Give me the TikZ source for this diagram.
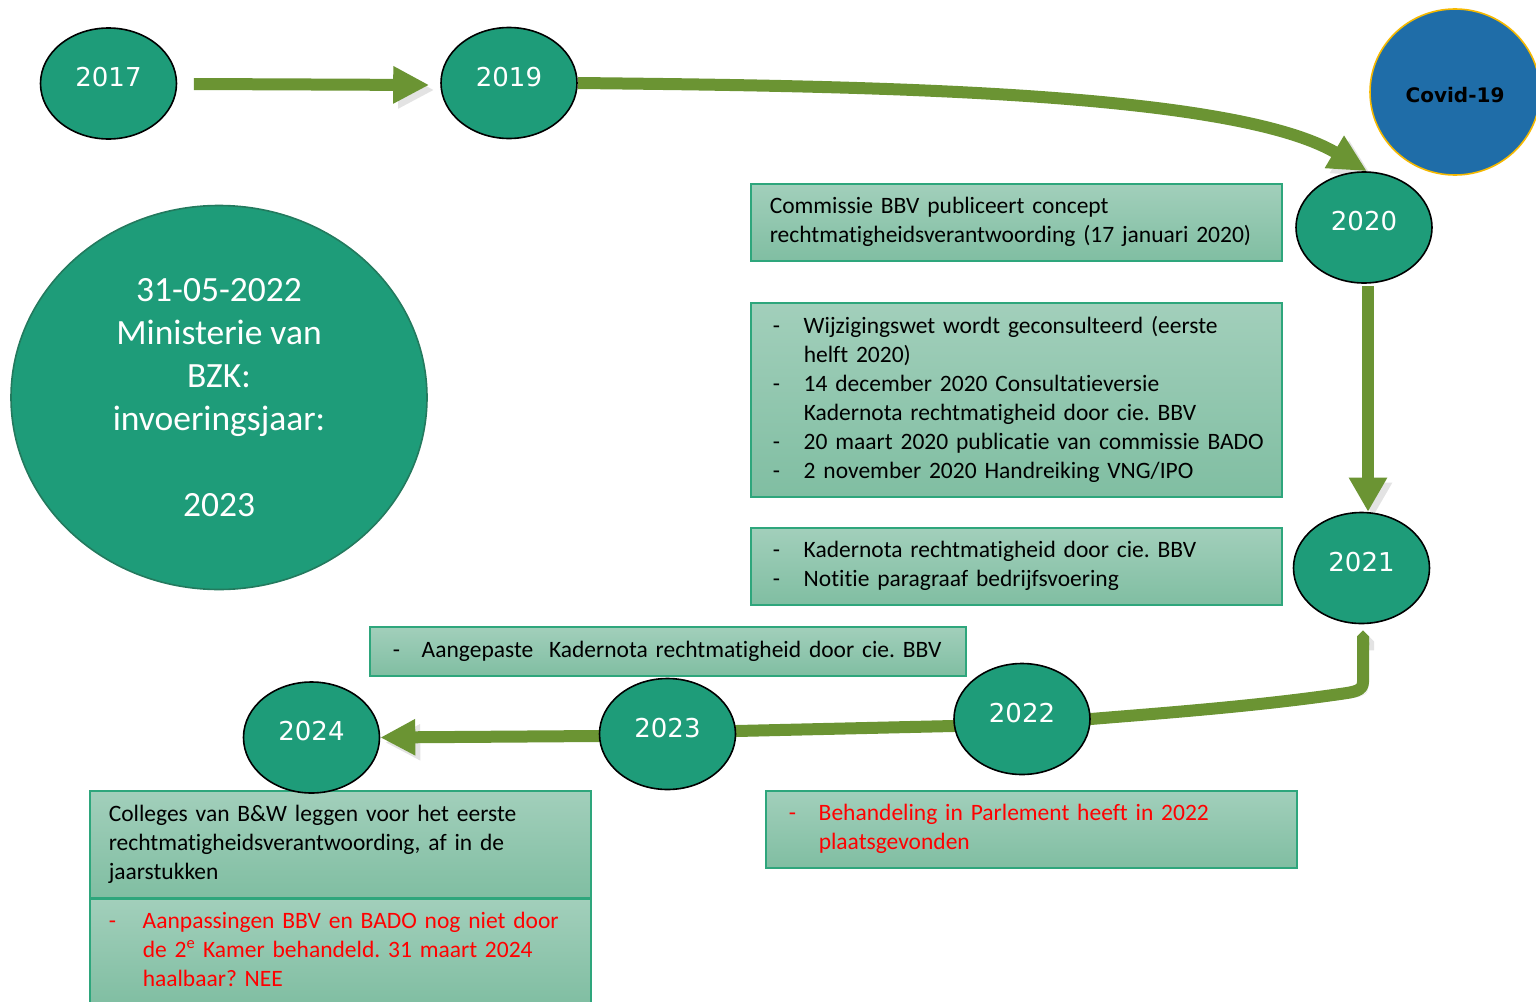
\documentclass[tikz,border=0pt]{standalone}
\usepackage{fontspec}
\setmainfont{Carlito}[Ligatures=NoCommon]
\newfontfamily\yearfont{DejaVu Sans}
\usetikzlibrary{shapes.geometric,arrows.meta,calc}
\definecolor{nodegreen}{HTML}{1E9C79}
\definecolor{bigborder}{HTML}{237A5E}
\definecolor{arrgreen}{HTML}{6B9433}
\definecolor{boxtop}{HTML}{A2CFBB}
\definecolor{boxbot}{HTML}{80BEA2}
\definecolor{boxborder}{HTML}{2EA67C}
\definecolor{covidblue}{HTML}{1F6DA8}
\definecolor{covidborder}{HTML}{F5B800}
\definecolor{shadowgray}{HTML}{E3E3E3}
\definecolor{redtext}{HTML}{FF0000}
\pgfdeclarelayer{bg}
\pgfsetlayers{bg,main}
\frenchspacing
\begin{document}
\begin{tikzpicture}[x=1pt,y=-1pt,
  yearnode/.style={ellipse, draw=black, line width=1.6pt, fill=nodegreen,
    minimum width=136pt, minimum height=111pt, inner sep=0pt, text=white,
    font=\yearfont\fontsize{26pt}{30pt}\selectfont, text depth=13pt},
  bignode/.style={ellipse, draw=bigborder, line width=1.6pt, fill=nodegreen,
    minimum width=416pt, minimum height=384pt, inner sep=0pt, text=white,
    align=center, font=\fontsize{35.5pt}{43pt}\selectfont},
  covidnode/.style={ellipse, draw=covidborder, line width=1.6pt, fill=covidblue,
    minimum width=170pt, minimum height=166pt, inner sep=0pt, text=black,
    font=\yearfont\bfseries\fontsize{20pt}{24pt}\selectfont, text height=20.6pt, text depth=0pt},
  tbox/.style={draw=boxborder, line width=1.5pt, top color=boxtop, bottom color=boxbot,
    anchor=north west, inner sep=0pt, align=left,
    font=\fontsize{23.5pt}{29pt}\selectfont},
  arr/.style={draw=arrgreen, line width=12pt, line join=round,
    preaction={draw=shadowgray, transform canvas={xshift=5pt, yshift=-5pt}}}
]
\useasboundingbox (0,0) rectangle (1536,1001);

% text boxes
\node[tbox, minimum width=531pt, minimum height=77pt, inner xsep=19pt, text width=493pt] (boxA) at (750,183)
  {\begin{tabular}{@{}l@{}}Commissie BBV publiceert concept\\ rechtmatigheidsverantwoording (17 januari 2020)\end{tabular}};
\node[tbox, minimum width=531pt, minimum height=194pt, inner xsep=22pt, text width=487pt] (boxB) at (750,302)
  {\begin{tabular}{@{}p{31pt}@{}l@{}}
  - & Wijzigingswet wordt geconsulteerd (eerste\\
    & helft 2020)\\
  - & 14 december 2020 Consultatieversie\\
    & Kadernota rechtmatigheid door cie. BBV\\
  - & 20 maart 2020 publicatie van commissie BADO\\
  - & 2 november 2020 Handreiking VNG/IPO
  \end{tabular}};
\node[tbox, minimum width=531pt, minimum height=77pt, inner xsep=22pt, text width=487pt] (boxC) at (750,527)
  {\begin{tabular}{@{}p{31pt}@{}l@{}}
  - & Kadernota rechtmatigheid door cie. BBV\\
  - & Notitie paragraaf bedrijfsvoering
  \end{tabular}};
\node[tbox, minimum width=596pt, minimum height=49pt, inner xsep=23pt, text width=550pt] (boxD) at (369,626)
  {\begin{tabular}{@{}p{29pt}@{}l@{}}
  - & Aangepaste\ \ Kadernota rechtmatigheid door cie. BBV
  \end{tabular}};
\node[tbox, minimum width=531pt, minimum height=77pt, inner xsep=23pt, text width=485pt, text=redtext] (boxE) at (765,790)
  {\begin{tabular}{@{}p{30pt}@{}l@{}}
  - & Behandeling in Parlement heeft in 2022\\
    & plaatsgevonden
  \end{tabular}};
\node[tbox, minimum width=501pt, minimum height=107pt, inner xsep=19pt, text width=463pt] (boxF) at (89,790)
  {\begin{tabular}{@{}l@{}}Colleges van B\&W leggen voor het eerste\\ rechtmatigheidsverantwoording, af in de\\ jaarstukken\end{tabular}};
\node[tbox, minimum width=501pt, minimum height=106pt, inner xsep=19pt, text width=463pt, text=redtext] (boxG) at (89,898)
  {\begin{tabular}{@{}p{34pt}@{}l@{}}
  - & Aanpassingen BBV en BADO nog niet door\\
    & de 2\textsuperscript{e} Kamer behandeld. 31 maart 2024\\
    & haalbaar? NEE
  \end{tabular}};

% circles
\node[bignode] (bzk) at (219,397.5) {31-05-2022\\ Ministerie van\\ BZK:\\ invoeringsjaar:\\[43pt] 2023};
\node[covidnode] (covid) at (1455,92) {Covid-19};
\node[yearnode] (y2017) at (108.5,83.5) {2017};
\node[yearnode] (y2019) at (509,83) {2019};
\node[yearnode] (y2020) at (1364,227.5) {2020};
\node[yearnode] (y2021) at (1361.5,568) {2021};
\node[yearnode] (y2022) at (1022,719) {2022};
\node[yearnode] (y2023) at (667.5,734) {2023};
\node[yearnode] (y2024) at (311.5,737.5) {2024};

% connectors
\begin{pgfonlayer}{bg}
\draw[arr, -{Triangle[length=36pt,width=35pt]}] ($(y2017.east)+(16.5,0.5)$) -- ($(y2019.west)+(-11,2)$);
\draw[arr, -{Triangle[length=38pt,width=35pt]}] (y2019.east) .. controls (850,86) and (1230,90) .. ($(y2020.north)+(3,0)$);
\draw[arr, -{Triangle[length=34pt,width=36pt]}] ($(y2020.south)+(4,2)$) -- ($(y2021.north)+(6.5,0)$);
\draw[arr, {Triangle Cap}-{Triangle[length=35pt,width=34pt]}] ($(y2021.south)+(1.5,6)$) -- (1363,682)
  .. controls (1363,691) and (1354,692) .. (1340,694)
  .. controls (1250,707) and (1150,714) .. (y2022.east)
  -- ($(y2022.west)+(0,7)$) -- ($(y2023.east)+(0,-3)$) -- ($(y2023.west)+(0,2)$) -- (y2024.east);
\end{pgfonlayer}
\end{tikzpicture}
\end{document}
